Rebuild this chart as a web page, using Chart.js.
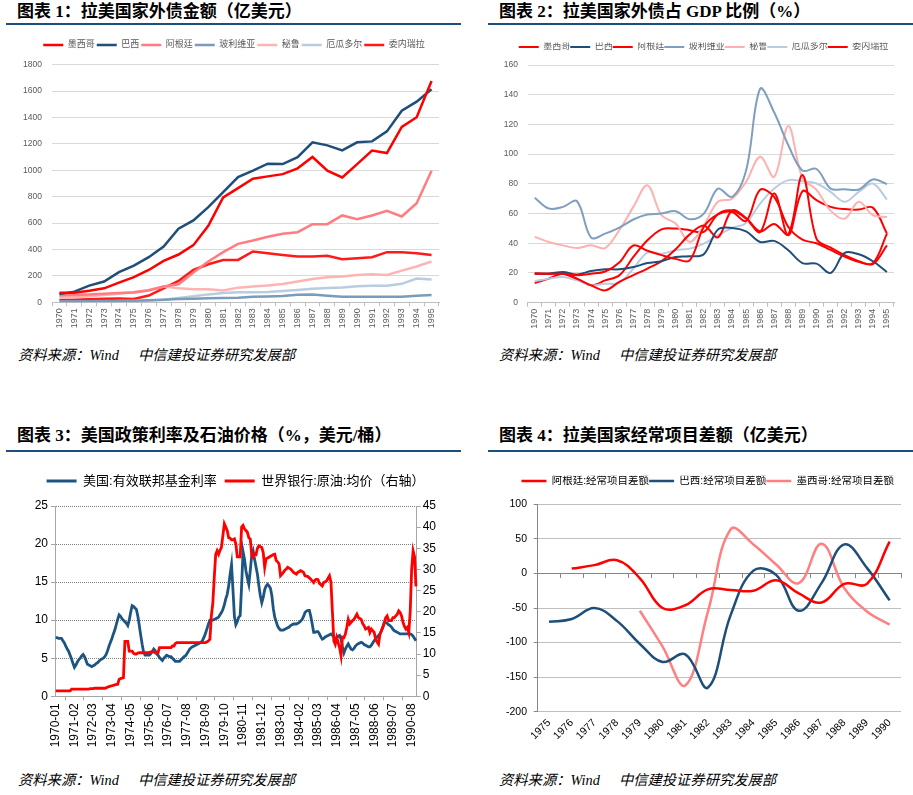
<!DOCTYPE html>
<html><head><meta charset="utf-8">
<script src="https://cdn.jsdelivr.net/npm/chart.js@4"></script>
<style>
body{margin:0;background:#fff;width:913px;height:795px;position:relative;overflow:hidden;font-family:Arial,"Noto Sans CJK SC",sans-serif}
.t{position:absolute;font-family:"Liberation Serif","Noto Sans CJK SC",serif;font-weight:bold;font-size:17px;line-height:18px;color:#000;white-space:nowrap}
.r{position:absolute;height:2px;background:#1B4F7E}
.s{position:absolute;font-family:"Liberation Serif","Noto Sans CJK SC",serif;font-style:italic;font-size:14.3px;line-height:16px;color:#000;white-space:nowrap}
canvas{position:absolute}
</style></head><body>
<div class="t" style="left:17px;top:3px">图表 1：拉美国家外债金额（亿美元）</div>
<div class="t" style="left:499px;top:3px">图表 2：拉美国家外债占 GDP 比例（%）</div>
<div class="t" style="left:17px;top:427px">图表 3：美国政策利率及石油价格（%，美元/桶）</div>
<div class="t" style="left:499px;top:427px">图表 4：拉美国家经常项目差额（亿美元）</div>
<div class="r" style="left:6px;width:455px;top:23px"></div>
<div class="r" style="left:488px;width:425px;top:23px"></div>
<div class="r" style="left:6px;width:455px;top:450px"></div>
<div class="r" style="left:488px;width:425px;top:450px"></div>
<div class="s" style="left:18px;top:347px">资料来源：Wind<span style="margin-left:19px">中信建投证券研究发展部</span></div>
<div class="s" style="left:499px;top:347px">资料来源：Wind<span style="margin-left:19px">中信建投证券研究发展部</span></div>
<div class="s" style="left:18px;top:772px">资料来源：Wind<span style="margin-left:19px">中信建投证券研究发展部</span></div>
<div class="s" style="left:499px;top:772px">资料来源：Wind<span style="margin-left:19px">中信建投证券研究发展部</span></div>
<canvas id="c1" width="456" height="305" style="left:0;top:30px"></canvas>
<canvas id="c2" width="457" height="305" style="left:456px;top:30px"></canvas>
<canvas id="c3" width="456" height="300" style="left:0;top:462px"></canvas>
<canvas id="c4" width="457" height="298" style="left:456px;top:462px"></canvas>
<script>
// ---------- Chart 1 & 2: years ----------
const years = ['1970','1971','1972','1973','1974','1975','1976','1977','1978','1979','1980','1981','1982','1983','1984','1985','1986','1987','1988','1989','1990','1991','1992','1993','1994','1995'];
const countries = ['墨西哥','巴西','阿根廷','玻利维亚','秘鲁','厄瓜多尔','委内瑞拉'];

// External debt (亿美元)
const debtMexico    = [73,73,88,106,149,190,245,314,362,433,579,794,865,936,954,971,1015,1101,997,946,1047,1149,1131,1328,1402,1677];
const debtBrazil    = [62,81,126,157,228,278,342,423,557,620,721,835,949,997,1050,1047,1100,1212,1189,1151,1212,1219,1295,1451,1520,1614];
const debtArgentina = [52,55,60,64,70,75,90,119,137,225,309,380,443,468,496,519,531,592,592,658,630,658,693,650,751,997];
const debtBolivia   = [6,7,8,9,10,12,15,20,25,27,30,32,34,42,44,47,58,60,50,42,42,42,42,42,50,55];
const debtPeru      = [35,38,45,55,65,78,94,119,106,99,99,89,111,119,127,139,157,177,190,195,207,213,207,240,271,309];
const debtEcuador   = [4,5,6,7,9,10,13,20,33,45,60,70,76,76,78,86,93,102,108,113,122,125,125,140,180,172];
const debtVenezuela = [18,20,24,27,28,25,51,106,162,245,288,321,321,385,372,359,347,347,352,326,334,342,380,380,372,359];

// External debt / GDP (%)
const ratioMexico    = [19.5,19.5,19.5,18.5,19.5,21,27,38.5,35,32,29.5,28.5,51,59.5,61,55,76,71,51,42.5,40,35.5,31,27.5,26.5,46.5];
const ratioBrazil    = [19.5,19.5,20.7,19,21.3,22.5,22.5,24,26.7,27.9,30.8,31.2,32.6,49.2,50.3,48,40.9,41.6,35.3,26.7,26.3,20,33.5,32.6,27.9,20.7];
const ratioArgentina = [19.8,19.5,19.5,16,11.7,8.3,14,18.5,23,28,36,46,52,44,62,57,48,53,46,86,43,37,32,28,26,38.6];
const ratioBolivia   = [70.6,63.4,64.5,68.3,43.8,46.5,50.6,56,59.3,60,61.6,56.2,60,76.8,71.2,89,144,128,106,89,90,76.8,76.4,76.2,83,79.8];
const ratioPeru      = [44.3,40.9,38.6,36.8,38.6,36.8,48.8,64.5,79,58.9,53.3,40.9,52,67.9,70,81.3,98.2,84.7,119,84,76,62,56.6,67.9,58.9,57.7];
const ratioEcuador   = [14.4,16.2,17.3,15,11.7,12.8,13.3,22.9,33.7,33,35.3,36.4,39.8,45.4,50.3,53.7,66.7,76.8,82.5,81.8,80.2,74.6,67.9,74.6,80.2,69.4];
const ratioVenezuela = [13.3,16.2,19.5,16.2,11.7,15,18.4,30.8,42,49.4,49.9,48.8,47.6,59.5,62,56.6,47.6,73.5,45.4,75,69,64.5,63,62.7,64,46.5];

// ---------- Chart 3: monthly 1970-01 .. 1990-11 ----------
const fedRate = [
 7.7,7.7,7.6,7.6,7.6,7.3,7.0,6.6,6.2,5.9,5.4,4.9,
 4.3,3.8,4.1,4.5,4.8,5.0,5.3,5.5,5.2,4.7,4.2,4.1,
 4.0,3.9,4.0,4.1,4.3,4.4,4.6,4.8,4.9,5.0,5.2,5.5,
 6.0,6.6,7.1,7.6,8.2,8.7,9.4,10.1,10.7,10.5,10.2,10.0,
 9.8,9.6,9.3,10.0,11.0,11.9,11.8,11.6,11.4,10.5,9.3,8.0,
 6.8,5.8,5.4,5.4,5.4,5.4,5.6,5.9,6.2,6.0,5.6,5.4,
 5.1,4.9,4.7,5.0,5.2,5.4,5.3,5.2,5.2,5.0,4.8,4.6,
 4.6,4.6,4.6,4.8,5.0,5.2,5.3,5.6,5.9,6.2,6.4,6.5,
 6.6,6.7,6.8,6.9,7.0,7.1,7.4,7.8,8.3,8.9,9.5,10.0,
 10.0,10.0,10.1,10.2,10.3,10.4,10.7,11.0,11.4,12.0,12.8,13.4,
 14.5,16.0,17.3,14.0,10.5,9.4,9.8,10.4,10.6,14.5,19.0,18.0,
 16.5,15.5,14.7,16.5,18.5,19.1,18.0,17.0,16.0,14.5,13.2,12.3,
 13.0,14.0,14.5,14.7,14.5,14.2,13.2,11.5,10.4,9.8,9.2,8.9,
 8.7,8.7,8.7,8.8,8.9,9.0,9.1,9.3,9.4,9.5,9.5,9.5,
 9.6,9.7,9.9,10.1,10.5,11.0,11.2,11.3,11.3,10.5,9.5,8.4,
 8.4,8.5,8.5,8.2,7.8,7.5,7.6,7.8,7.9,8.0,8.1,8.2,
 8.0,7.8,7.5,7.7,7.9,8.0,7.5,6.5,5.7,6.2,6.6,6.9,
 6.5,6.2,6.1,6.3,6.6,6.8,6.9,7.0,7.1,7.0,6.8,6.7,
 6.6,6.5,6.5,6.7,7.0,7.3,7.5,7.8,8.0,8.2,8.6,9.1,
 9.6,9.7,9.6,9.4,9.3,9.1,8.8,8.6,8.5,8.4,8.3,8.2,
 8.2,8.2,8.2,8.2,8.2,8.2,8.2,8.1,7.9,7.6,7.3
];
const oilPrice = [
 1.3,1.3,1.3,1.3,1.3,1.3,1.3,1.3,1.3,1.3,1.3,1.7,
 1.7,1.7,1.7,1.7,1.7,1.7,1.7,1.7,1.7,1.7,1.7,1.7,
 1.8,1.8,1.8,1.9,1.9,1.9,1.9,1.9,1.9,1.9,1.9,2.0,
 2.2,2.3,2.4,2.5,2.6,2.7,2.8,2.8,4.0,4.2,4.3,4.4,
 13.0,13.0,13.0,10.7,10.7,10.7,10.2,10.0,10.0,10.2,10.3,10.3,
 10.3,10.3,10.3,10.3,10.3,10.4,10.5,10.5,10.5,10.3,10.3,10.3,
 11.5,11.5,11.5,11.5,11.5,11.5,11.5,11.5,11.5,11.9,11.9,12.5,
 12.7,12.7,12.7,12.7,12.7,12.7,12.7,12.7,12.7,12.7,12.7,12.7,
 12.7,12.7,12.7,12.7,12.7,12.7,12.7,12.7,12.7,12.9,13.1,13.5,
 19.0,22.0,28.0,33.5,34.4,33.6,34.5,35.2,38.0,40.8,40.0,39.2,
 37.5,37.4,37.0,37.0,37.2,36.0,33.0,33.0,33.0,40.0,40.4,39.6,
 39.2,38.8,37.5,37.2,33.5,32.9,33.6,33.5,35.0,35.6,35.4,35.2,
 34.0,30.5,32.5,32.7,32.9,33.1,33.3,33.5,33.6,32.1,31.8,31.3,
 28.5,28.9,29.3,29.8,30.1,30.5,30.3,30.1,29.7,29.3,29.1,28.9,
 29.3,29.5,29.7,29.5,29.3,28.5,28.4,28.3,28.0,27.7,27.3,26.9,
 27.5,27.7,27.6,26.7,26.4,26.1,26.9,27.1,27.3,27.9,28.5,27.0,
 20.0,13.1,12.3,13.9,12.7,11.5,9.6,14.0,13.9,14.7,16.3,18.2,
 17.1,17.5,17.9,18.2,18.8,19.4,18.6,18.4,18.2,17.2,16.7,15.9,
 16.1,16.3,15.1,15.9,15.5,15.1,13.5,12.8,12.3,14.7,15.5,16.3,
 17.5,18.6,19.0,17.9,17.9,17.9,18.6,18.6,19.0,19.4,20.2,19.8,
 19.0,17.5,16.5,15.9,16.3,15.1,20.0,30.0,34.4,33.0,26.0
];
const monthLabels = [];
for (let i = 0; i < fedRate.length; i++) {
  monthLabels.push((1970 + Math.floor(i / 12)) + '-' + String(i % 12 + 1).padStart(2, '0'));
}
const monthTickStep = 13;

// ---------- Chart 4: current account (亿美元) ----------
const caYears     = ['1975','1976','1977','1978','1979','1980','1981','1982','1983','1984','1985','1986','1987','1988','1989','1990'];
const caArgentina = [null,7,12,19,-7,-50,-46,-23,-24,-25,-10,-29,-42,-15,-15,46];
const caBrazil    = [-70,-66,-50,-69,-102,-128,-117,-165,-60,4,-2,-54,-14,42,8,-39];
const caMexico    = [null,null,null,null,-54,-106,-162,-55,64,42,13,-14,43,-21,-55,-74];

// ---------- helpers ----------
Chart.defaults.font.family = 'Arial, "Liberation Sans", "Noto Sans CJK SC", sans-serif';
Chart.defaults.animation = false;
const CJK = 'Arial, "Noto Sans CJK SC", sans-serif';
const plain = v => String(v);

// fixes legend height and centres legend items on a given x (canvas coordinates)
function legendBox(h, cx) {
  return { id: 'legendBox',
    beforeInit(chart) {
      const lg = chart.legend; if (!lg) return;
      const orig = lg.fit.bind(lg);
      lg.fit = function () { orig(); this.height = h; };
    },
    afterLayout(chart) {
      const lg = chart.legend; if (!lg) return;
      const w = lg.right - lg.left;
      lg.left = cx - w / 2; lg.right = cx + w / 2;
    } };
}
function ln(label, data, color, width, tension) {
  return { label, data, borderColor: color, backgroundColor: color, borderWidth: width,
           pointRadius: 0, pointHoverRadius: 0, fill: false, tension: tension || 0 };
}
function legendOpts(size, pad, w, color) {
  return { display: true, position: 'top',
    labels: { usePointStyle: true, pointStyle: 'line', pointStyleWidth: w, padding: pad,
              font: { size: size, family: CJK }, color: color,
              sort: (a, b) => a.datasetIndex - b.datasetIndex } };
}
const C = { mex: '#FF0000', bra: '#1F4E79', arg1: '#FF7C80', bol: '#7A9CBB', per: '#FFB4B4', ecu: '#B9CCE0', ven: '#FF1A1A' };

// ---------- Chart 1 ----------
new Chart(document.getElementById('c1'), {
  type: 'line',
  data: { labels: years, datasets: [
    ln(countries[0], debtMexico, C.mex, 2.5),
    ln(countries[1], debtBrazil, C.bra, 2.5),
    ln(countries[2], debtArgentina, C.arg1, 2.5),
    ln(countries[3], debtBolivia, C.bol, 2.5),
    ln(countries[4], debtPeru, C.per, 2.5),
    ln(countries[5], debtEcuador, C.ecu, 2.5),
    ln(countries[6], debtVenezuela, C.ven, 2.5)
  ]},
  options: {
    responsive: false, devicePixelRatio: 1, animation: false,
    layout: { padding: { left: 0, right: 17, top: 8.5, bottom: 0 } },
    plugins: { legend: legendOpts(9, 2, 20, '#595959'), tooltip: { enabled: false } },
    scales: {
      x: { offset: true,
           grid: { display: true, drawOnChartArea: false, offset: true, tickLength: 4, color: '#BFBFBF' },
           border: { color: '#BFBFBF' },
           ticks: { minRotation: 90, maxRotation: 90, autoSkip: false, font: { size: 9 }, color: '#595959', padding: 2 },
           afterFit(s) { s.height = 32.7; } },
      y: { min: 0, max: 1800,
           ticks: { stepSize: 200, font: { size: 8.5 }, color: '#595959', padding: 10, callback: plain },
           grid: { color: '#D9D9D9', drawTicks: false },
           border: { display: false },
           afterFit(s) { s.width = 52; } }
    }
  },
  plugins: [legendBox(26.2, 234)]
});

// ---------- Chart 2 ----------
const T2 = 0.35;
new Chart(document.getElementById('c2'), {
  type: 'line',
  data: { labels: years, datasets: [
    ln(countries[0], ratioMexico, '#FF0000', 2, T2),
    ln(countries[1], ratioBrazil, C.bra, 2, T2),
    ln(countries[2], ratioArgentina, '#FF0000', 2, T2),
    ln(countries[3], ratioBolivia, '#7F9FBF', 2, T2),
    ln(countries[4], ratioPeru, '#FFB0B0', 2, T2),
    ln(countries[5], ratioEcuador, '#B9CCE0', 2, T2),
    ln(countries[6], ratioVenezuela, '#FF0000', 2, T2)
  ]},
  options: {
    responsive: false, devicePixelRatio: 1, animation: false,
    layout: { padding: { left: 0, right: 19, top: 12.5, bottom: 0 } },
    plugins: { legend: legendOpts(9, 0, 20, '#595959'), tooltip: { enabled: false } },
    scales: {
      x: { offset: true,
           grid: { display: true, drawOnChartArea: false, offset: true, tickLength: 4, color: '#BFBFBF' },
           border: { color: '#BFBFBF' },
           ticks: { minRotation: 90, maxRotation: 90, autoSkip: false, font: { size: 9 }, color: '#595959', padding: 2 },
           afterFit(s) { s.height = 32.3; } },
      y: { min: 0, max: 160,
           ticks: { stepSize: 20, font: { size: 8.5 }, color: '#595959', padding: 9.7, callback: plain },
           grid: { color: '#D9D9D9', drawTicks: false },
           border: { display: false },
           afterFit(s) { s.width = 71.7; } }
    }
  },
  plugins: [legendBox(22.5, 247.5)]
});

// ---------- Chart 3 ----------
new Chart(document.getElementById('c3'), {
  type: 'line',
  data: { labels: monthLabels, datasets: [
    Object.assign(ln('美国:有效联邦基金利率', fedRate, '#1D5582', 2.8), { yAxisID: 'y', order: 1 }),
    Object.assign(ln('世界银行:原油:均价（右轴）', oilPrice, '#FF0000', 2.8), { yAxisID: 'y1', order: 0 })
  ]},
  options: {
    responsive: false, devicePixelRatio: 1, animation: false,
    layout: { padding: { left: 0, right: 0, top: 4.5, bottom: 0 } },
    plugins: { legend: legendOpts(13, 8, 30, '#000'), tooltip: { enabled: false } },
    scales: {
      x: { offset: true,
           grid: { display: true, drawOnChartArea: false, offset: true, tickLength: 4, color: '#A6A6A6' },
           border: { color: '#A6A6A6' },
           ticks: { minRotation: 90, maxRotation: 90, autoSkip: false, font: { size: 12 }, color: '#000', padding: 3,
                    callback: function (v, i) { return i % monthTickStep === 0 ? monthLabels[i] : null; } },
           afterFit(s) { s.height = 65.7; } },
      y: { position: 'left', min: 0, max: 25,
           ticks: { stepSize: 5, font: { size: 12 }, color: '#000', padding: 3, callback: plain },
           grid: { color: '#7F7F7F', tickColor: '#A6A6A6', tickLength: 4 },
           border: { color: '#A6A6A6', dash: [1, 1] },
           afterFit(s) { s.width = 55; } },
      y1: { position: 'right', min: 0, max: 45,
           ticks: { stepSize: 5, font: { size: 12 }, color: '#000', padding: 2, callback: plain },
           grid: { drawOnChartArea: false, color: '#A6A6A6', tickLength: 4 },
           border: { color: '#A6A6A6' },
           afterFit(s) { s.width = 39.3; } }
    }
  },
  plugins: [legendBox(39.5, 235.5)]
});

// ---------- Chart 4 ----------
const T4 = 0.4;
new Chart(document.getElementById('c4'), {
  type: 'line',
  data: { labels: caYears, datasets: [
    ln('阿根廷:经常项目差额', caArgentina, '#FF0000', 2.5, T4),
    ln('巴西:经常项目差额', caBrazil, '#1F4E79', 2.5, T4),
    ln('墨西哥:经常项目差额', caMexico, '#FF8080', 2.5, T4)
  ]},
  options: {
    responsive: false, devicePixelRatio: 1, animation: false,
    layout: { padding: { left: 0, right: 12, top: 13.75, bottom: 0 } },
    plugins: { legend: legendOpts(10.5, 0, 25, '#000'), tooltip: { enabled: false } },
    scales: {
      x: { offset: true,
           grid: { display: false, drawTicks: false },
           border: { display: false },
           ticks: { minRotation: 45, maxRotation: 45, autoSkip: false, font: { size: 10.5 }, color: '#000', padding: 5 },
           afterFit(s) { s.height = 48.3; } },
      x2: { axis: 'x', type: 'category', position: { y: 0 }, offset: true,
           grid: { drawOnChartArea: false, offset: true, tickLength: 4, color: '#868686' },
           border: { color: '#868686' },
           ticks: { display: false } },
      y: { min: -200, max: 100,
           ticks: { stepSize: 50, font: { size: 10.5 }, color: '#000', padding: 6.7, callback: plain },
           grid: { color: '#BFBFBF', tickColor: '#868686', tickLength: 4 },
           border: { color: '#868686' },
           afterFit(s) { s.width = 81.7; } }
    }
  },
  plugins: [legendBox(28.55, 251.7)]
});
</script>
</body></html>
